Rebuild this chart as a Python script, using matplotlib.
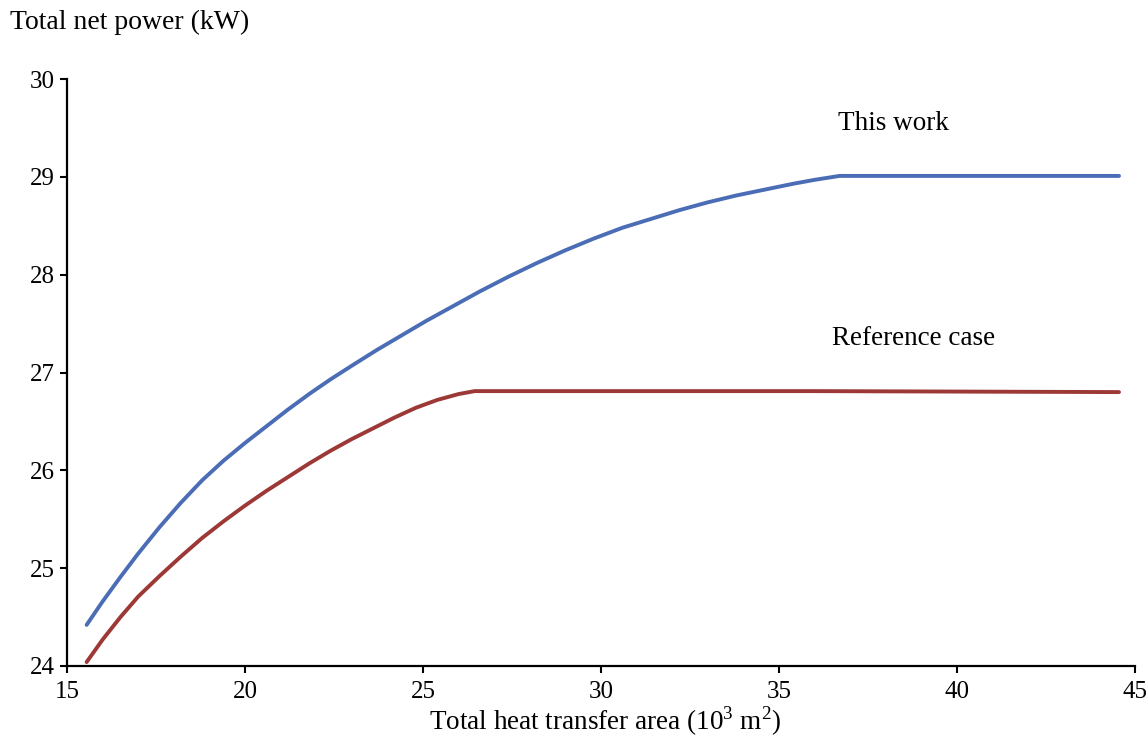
import numpy as np
import matplotlib.pyplot as plt

plt.rcParams['font.family'] = ['Liberation Serif', 'DejaVu Serif']
plt.rcParams['mathtext.fontset'] = 'custom'
plt.rcParams['mathtext.rm'] = 'Liberation Serif'

# "This work" curve
work_x = [15.55, 16.0, 16.5, 17.0, 17.6, 18.2, 18.8, 19.4, 20.0, 20.6, 21.2, 21.8,
          22.4, 23.0, 23.7, 24.4, 25.1, 25.8, 26.6, 27.4, 28.2, 29.0, 29.8, 30.6,
          31.4, 32.2, 33.0, 33.8, 34.6, 35.4, 36.0, 36.7, 40.0, 44.55]
work_y = [24.42, 24.66, 24.91, 25.15, 25.42, 25.67, 25.90, 26.10, 26.28, 26.45, 26.62, 26.78,
          26.93, 27.07, 27.23, 27.38, 27.53, 27.67, 27.83, 27.98, 28.12, 28.25, 28.37, 28.48,
          28.57, 28.66, 28.74, 28.81, 28.87, 28.93, 28.97, 29.01, 29.01, 29.01]

# "Reference case" curve
ref_x = [15.55, 16.0, 16.5, 17.0, 17.6, 18.2, 18.8, 19.4, 20.0, 20.6, 21.2, 21.8,
         22.4, 23.0, 23.6, 24.2, 24.8, 25.4, 26.0, 26.45, 36.0, 44.55]
ref_y = [24.04, 24.27, 24.50, 24.71, 24.92, 25.12, 25.31, 25.48, 25.64, 25.79, 25.93, 26.07,
         26.20, 26.32, 26.43, 26.54, 26.64, 26.72, 26.78, 26.81, 26.81, 26.80]

xticks = [15, 20, 25, 30, 35, 40, 45]
yticks = [24, 25, 26, 27, 28, 29, 30]

fig = plt.figure(figsize=(11.48, 7.39), dpi=100)
ax = fig.add_axes([0.0584, 0.0988, 0.9303, 0.7942])

ax.plot(work_x, work_y, color='#4a6db5', lw=2.8, solid_capstyle='round')
ax.plot(ref_x, ref_y, color='#9c3836', lw=2.8, solid_capstyle='round')

ax.set_xlim(15, 45)
ax.set_ylim(24, 30)
ax.set_xticks(xticks)
ax.set_yticks(yticks)
ax.tick_params(direction='out', length=5, width=1.5, labelsize=18)
ax.tick_params(axis='x', pad=6)
ax.tick_params(axis='y', pad=4)

for s in ['top', 'right']:
    ax.spines[s].set_visible(False)
for s in ['left', 'bottom']:
    ax.spines[s].set_linewidth(1.6)

ax.text(36.65, 29.55, 'This work', fontsize=19.5, va='center')
ax.text(36.5, 27.35, 'Reference case', fontsize=19.5, va='center')

fig.text(0.009, 0.969, 'Total net power (kW)', fontsize=20, va='center', ha='left')
fig.text(0.527, 0.024, 'Total heat transfer area (10$^3$ m$^2$)', fontsize=19.5,
         va='center', ha='center')

fig.savefig('out.png', dpi=100)
